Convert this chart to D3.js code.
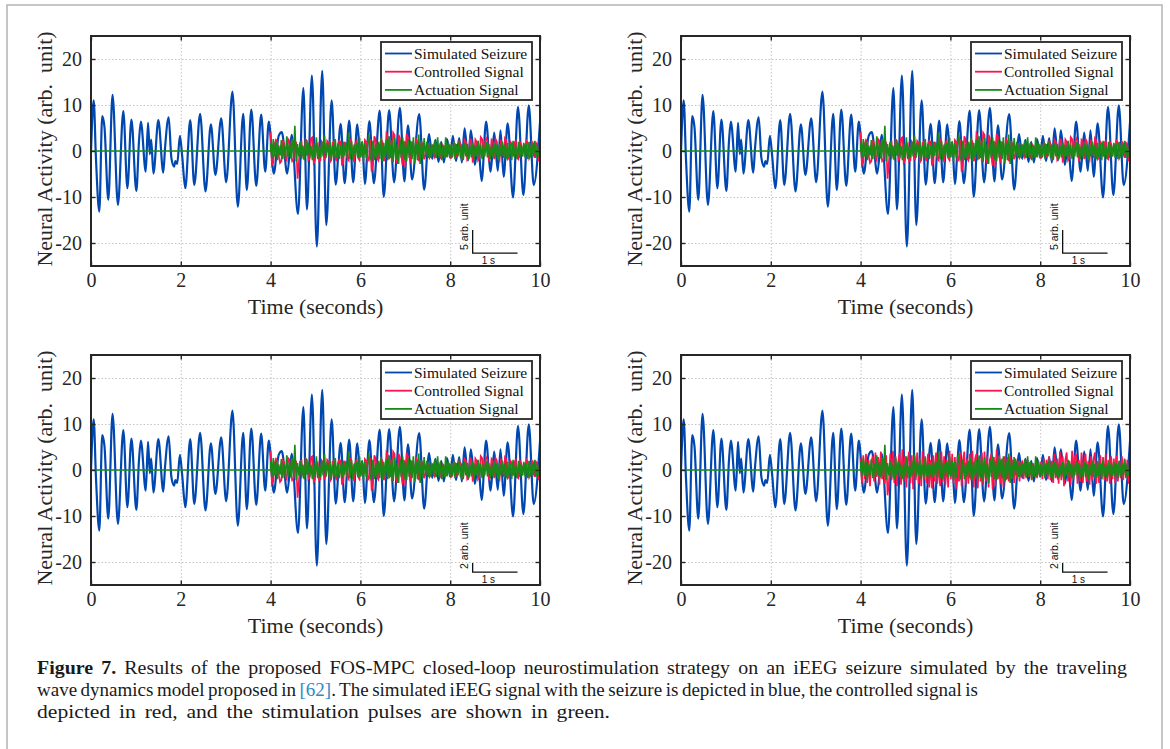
<!DOCTYPE html>
<html>
<head>
<meta charset="utf-8">
<script src="https://cdn.jsdelivr.net/npm/d3@7"></script>
<style>
  body { margin: 0; background: #fff; }
  svg { display: block; }
</style>
</head>
<body>
<div id="figure"></div>
<script>
// ---- data ----
var timeTicks = [0, 2, 4, 6, 8, 10];
var valueTicks = [-20, -10, 0, 10, 20];
var seriesNames = ["Simulated Seizure", "Controlled Signal", "Actuation Signal"];
var scaleBarUnits = [5, 5, 2, 2]; // one per panel (TL, TR, BL, BR)

// simulated seizure: [time (s), value] at the turning points of the blue trace
var seizure = [
  [0, 0], [0.06, 11], [0.11, -1.5], [0.185, -13.2], [0.25, 7.6], [0.3, 5.2], [0.385, -10.6],
  [0.48, 12.2], [0.6, -11.7], [0.72, 8.7], [0.81, -8.1], [0.9, 6.8], [1.01, -8.7], [1.07, 2.3],
  [1.11, 6.4], [1.22, -4.5], [1.27, 6.1], [1.31, -0.7], [1.34, 2.5], [1.39, -4.9], [1.5, 6.7],
  [1.61, -4.7], [1.65, 0.8], [1.73, 7.3], [1.79, -1.5], [1.85, -3.4], [1.88, -2.2], [1.92, -2.8],
  [1.98, 3.3], [2.03, -1], [2.1, -8.1], [2.21, 6.7], [2.3, -7.4], [2.43, 8.1], [2.55, -8.8],
  [2.67, 5.8], [2.77, -5.2], [2.9, 7.1], [3.01, -6.8], [3.15, 12.9], [3.27, -12.1], [3.39, 8.1],
  [3.47, -8.5], [3.57, 9.0], [3.68, -7.6], [3.79, 7.9], [3.88, -4.5], [3.96, 6.4], [4.07, -4.9],
  [4.18, 3.3], [4.25, 4.1], [4.37, -4.9], [4.47, 3.5], [4.61, -13.7], [4.73, 13.7], [4.81, -12.7],
  [4.92, 16.4], [5.03, -20.8], [5.15, 17.4], [5.24, -16.1], [5.36, 11], [5.45, -7.3], [5.56, 5.9],
  [5.65, -7.0], [5.75, 6.6], [5.84, -6.8], [5.93, 5.8], [6.0, -1.0], [6.04, 2.0], [6.1, -7.2],
  [6.2, 6.5], [6.3, -7], [6.43, 8.8], [6.52, -10], [6.64, 8.9], [6.75, -6.8], [6.88, 9.4],
  [6.98, -6.6], [7.06, 5.6], [7.15, -6.2], [7.31, 8.0], [7.42, -8.4], [7.53, 3.7], [7.6, -1.7],
  [7.67, 2.4], [7.74, -2.4], [7.8, 2.0], [7.86, -2.5], [7.93, 2.6], [8.0, -1.5], [8.06, 3.3],
  [8.13, -2.2], [8.2, 2.8], [8.26, -2.5], [8.32, 4.9], [8.4, -2], [8.46, 4.5], [8.55, -3],
  [8.62, 2], [8.7, -6.5], [8.8, 6.4], [8.9, -4.5], [8.98, 4.0], [9.06, -4.3], [9.12, 4.5],
  [9.19, -5.6], [9.28, 6.0], [9.4, -10.1], [9.51, 9.6], [9.63, -9.6], [9.75, 9.9], [9.86, -7.4],
  [10.0, 6.2]
];

// control switched on at 4 s, samples every 0.03 s
var controlStart = 4;
var controlStep = 0.03;

// controlled signal, panels 1-3
var controlledA = [
  4.2, -3.0, -2.5, 1.5, 2.4, 2.0, -1.0, -2.6, -2.2, 2.2,
  1.8, -1.5, -2.0, 2.6, 2.2, -0.8, -2.2, -1.8, 1.0, 2.0,
  -6.0, -2.5, 1.8, 2.0, -1.0, -1.8, 2.5, 2.2, -2.0, -1.6,
  2.8, 3.0, -2.6, -2.0, 1.0, 1.5, -2.2, -2.0, 2.0, 1.5,
  -2.0, -1.2, 2.2, 1.8, -2.5, -2.0, 1.8, 2.0, -1.5, -2.2,
  1.5, 2.2, 2.0, -3.2, -2.5, 2.0, 1.2, -1.5, -2.0, 2.5,
  2.0, -1.2, -2.4, 1.8, 2.2, -1.5, -2.0, 1.2, 1.5, -1.0,
  2.4, 2.0, -2.2, -1.8, 2.6, -4.5, -3.0, 3.2, 2.5, -1.5,
  -2.0, 1.2, 2.5, 2.0, -2.2, -1.5, 3.8, 3.2, -1.8, 2.2,
  -2.4, 4.0, 3.5, -1.5, -2.8, 3.5, 2.8, -1.0, -3.2, 2.2,
  -3.5, 3.8, 3.0, -1.2, -2.5, 2.0, 1.2, -1.8, 2.6, 2.0,
  -2.2, -1.5, 2.0, 1.2, -1.8, -1.0, 1.5, 1.2, -1.5, -1.0,
  1.2, 0.8, -1.4, -1.0, 1.5, 1.0, -1.5, -1.2, 1.2, 0.8,
  -1.2, -1.0, 1.4, 1.2, -1.5, -1.2, 1.8, 1.5, -1.2, -1.0,
  2.0, 1.6, -1.8, -1.5, 2.4, 2.0, -2.0, -1.6, 2.6, 2.2,
  -2.2, -1.8, 2.5, 2.0, -2.0, -1.5, 3.0, 2.6, -1.2, 1.5,
  2.8, 2.2, -2.2, -1.5, 2.4, 2.0, -1.8, 2.6, 2.0, -1.5,
  -2.0, 2.2, 1.8, -1.2, 2.8, 2.4, -1.8, -1.5, 2.0, 1.6,
  -1.2, 1.8, 2.2, -1.5, -1.8, 2.0, 1.5, -1.2, 1.5, -1.0,
  2.2, 1.8, -1.6, -1.0, 2.0, 1.6, -1.5, 1.8, 1.5, -2.2
];

// controlled signal, bottom-right panel (larger)
var controlledB = [
  2.5, -3.0, 3.2, -2.0, 3.5, -2.8, 2.2, -3.5, 1.8, 3.0,
  -2.5, 3.8, -1.5, 2.8, -3.2, 4.0, -2.0, 2.5, -3.0, 3.2,
  -5.5, -3.0, 3.5, -2.2, 4.2, -2.8, 3.0, -3.5, 2.0, 3.8,
  -3.2, 4.5, -2.5, 3.0, -3.8, 2.2, 4.0, -2.8, 3.2, -4.2,
  3.0, -2.2, 3.8, -3.0, 2.5, -3.5, 4.2, -2.0, 3.0, -2.8,
  3.5, -3.8, 2.2, -4.0, 3.2, -2.5, 3.8, -3.0, 2.0, -3.5,
  4.0, -2.5, 3.0, -3.2, 2.2, -3.8, 4.2, -2.0, 3.5, -3.0,
  2.8, -4.0, 3.0, -2.5, 3.8, -3.5, 2.2, 4.0, -3.2, 2.5,
  -3.0, 3.5, -2.2, 4.2, -3.8, 2.5, 3.5, -4.0, 2.8, -2.5,
  3.8, -3.2, 4.0, -2.5, 3.0, -3.8, 2.2, 3.5, -4.2, 2.8,
  -3.5, 4.5, -2.0, 3.2, -3.0, 2.5, -3.8, 3.0, -2.2, 2.8,
  -2.5, 3.0, -2.0, 2.2, -2.8, 2.5, -1.8, 2.0, -2.5, 1.5,
  1.8, -2.0, 1.5, -1.8, 2.2, -1.5, 1.8, -2.2, 1.5, -1.2,
  1.5, -1.8, 2.0, -1.2, 1.8, -2.0, 2.5, -1.5, 2.2, -2.0,
  3.0, -2.2, 2.0, -2.8, 3.5, -1.8, 2.5, -3.0, 4.0, -2.2,
  3.0, -3.5, 2.2, 3.8, -2.5, 2.0, -3.2, 4.2, -2.0, 2.8,
  3.5, -3.0, 2.2, -2.5, 3.8, -2.8, 2.0, 3.5, -2.5, 2.0,
  -3.2, 3.0, -2.2, 2.5, 3.8, -3.0, 2.0, -2.8, 3.2, -2.0,
  2.8, -2.2, 3.5, -2.5, 2.2, -3.0, 3.0, -2.0, 2.5, -2.8,
  3.2, -2.5, 2.0, -1.8, 3.0, -2.2, 2.5, -1.8, 2.2, -3.0
];

// stimulation pulses (same sampling)
var actuation = [
  1.8, -1.4, 2.6, -1.2, 2.0, -2.0, 1.2, -1.0, 2.4, -1.8,
  1.4, -1.5, 3.2, -1.2, 1.8, -1.6, 2.6, -1.4, 5.5, -2.2,
  1.5, -1.2, 2.0, -1.8, 1.2, -2.0, 2.6, -1.0, 1.8, -1.5,
  1.2, -2.0, 1.6, -1.4, 3.0, -1.8, 1.0, -1.5, 2.0, -1.2,
  3.4, -1.5, 1.8, -1.0, 2.2, -2.0, 1.2, -1.5, 2.6, -1.4,
  1.5, -1.8, 1.2, -1.5, 2.0, -1.0, 1.8, -1.5, 4.0, -1.8,
  2.2, -2.0, 1.4, -1.2, 1.8, -1.5, 3.0, -1.4, 2.0, -2.2,
  1.8, -1.5, 1.5, 3.6, -1.8, -1.2, 2.2, -2.0, 1.5, -1.4,
  2.0, -1.8, 2.8, -2.2, 1.8, -1.4, 2.4, -2.0, 3.2, -1.5,
  2.2, -2.4, 2.8, -1.8, 1.5, -2.8, 2.4, -1.5, 3.0, -2.0,
  2.0, -2.2, 2.6, -1.5, 2.2, -1.8, 3.0, -2.6, 1.8, -2.0,
  3.6, -2.8, 2.2, -1.8, 2.8, -1.2, 2.0, -1.5, 1.8, -1.4,
  1.4, -1.2, 2.2, -1.5, 3.0, -1.4, 1.8, -2.0, 1.2, -1.5,
  3.0, -1.4, 1.8, -1.5, 1.4, -1.2, 2.0, -1.8, 1.5, -1.2,
  2.2, -1.5, 1.4, -2.0, 1.8, -1.2, 1.5, -1.8, 1.2, -1.4,
  1.8, -2.0, 1.4, -1.2, 2.2, -1.5, 1.4, -1.8, 1.5, -1.2,
  2.0, -1.4, 1.5, -1.8, 1.2, -1.4, 1.8, -1.5, 1.4, -2.0,
  1.5, -1.2, 2.0, -1.5, 1.4, -1.8, 1.8, -1.4, 1.5, -2.0,
  2.2, -1.4, 1.2, -1.8, 2.0, -1.5, 1.4, -1.2, 1.8, -1.5,
  1.5, -1.8, 2.0, -1.4, 1.5, -1.2, 2.2, -1.5, 1.4, -1.2
];

var panelControlled = [controlledA, controlledA, controlledA, controlledB];

var captionLines = [
  "Results of the proposed FOS-MPC closed-loop neurostimulation strategy on an iEEG seizure simulated by the traveling",
  "wave dynamics model proposed in ",
  ". The simulated iEEG signal with the seizure is depicted in blue, the controlled signal is",
  "depicted in red, and the stimulation pulses are shown in green."
];

function init() {
    var W = 1170, H = 749;
    var colors = ["#0048b0", "#fa1450", "#178a17"];

    var svg = d3.select("#figure").append("svg")
        .attr("width", W).attr("height", H);

    svg.append("rect").attr("width", W).attr("height", H).attr("fill", "#fff");
    //light frame around the figure
    svg.append("rect")
        .attr("x", 7).attr("y", 5).attr("width", 1155).attr("height", 780)
        .attr("fill", "none").attr("stroke", "#b4b4b4").attr("stroke-width", 1.5);

    //axes boxes (top-left corners)
    var panels = [
        {x: 91, y: 36}, {x: 681, y: 36},
        {x: 91, y: 355}, {x: 681, y: 355}
    ];
    var pw = 449, ph = 230;
    var serif = "Liberation Serif, Times New Roman, serif";

    panels.forEach(function(p, pi) {
        var g = svg.append("g").attr("transform", "translate(" + p.x + "," + p.y + ")");
        var x = d3.scaleLinear().domain([0, 10]).range([0, pw]);
        var y = d3.scaleLinear().domain([-25, 25]).range([ph, 0]);

        //dotted grid
        g.append("g").attr("class", "grid")
            .attr("transform", "translate(0," + ph + ")")
            .call(d3.axisBottom(x).tickValues(timeTicks).tickSize(-ph).tickFormat(""));
        g.append("g").attr("class", "grid")
            .call(d3.axisLeft(y).tickValues(valueTicks).tickSize(-pw).tickFormat(""));
        g.selectAll(".grid .domain").remove();
        g.selectAll(".grid line")
            .attr("stroke", "#c4c4c4").attr("stroke-width", 1)
            .attr("stroke-dasharray", "1.5,2");

        var clipId = "clip" + pi;
        g.append("clipPath").attr("id", clipId)
            .append("rect").attr("width", pw).attr("height", ph);
        var plot = g.append("g").attr("clip-path", "url(#" + clipId + ")");

        //blue seizure trace
        var smooth = d3.line()
            .x(function(d) { return x(d[0]); })
            .y(function(d) { return y(d[1]); })
            .curve(d3.curveMonotoneX);
        plot.append("path").datum(seizure)
            .attr("d", smooth)
            .attr("fill", "none").attr("stroke", colors[0])
            .attr("stroke-width", 2.2).attr("stroke-linejoin", "round");

        //red controlled signal
        var sampled = d3.line()
            .x(function(d, i) { return x(controlStart + i * controlStep); })
            .y(function(d) { return y(d); });
        plot.append("path").datum(panelControlled[pi])
            .attr("d", sampled)
            .attr("fill", "none").attr("stroke", colors[1])
            .attr("stroke-width", 1.7);

        //green actuation: zero before control, then pulses
        var act = [[0, 0], [controlStart, 0]].concat(actuation.map(function(v, i) {
            return [controlStart + i * controlStep, v];
        }));
        plot.append("path").datum(act)
            .attr("d", d3.line()
                .x(function(d) { return x(d[0]); })
                .y(function(d) { return y(d[1]); }))
            .attr("fill", "none").attr("stroke", colors[2])
            .attr("stroke-width", 1.6);

        //axes with inward ticks on all sides
        var tick = 4.5;
        var bottom = g.append("g").attr("class", "ax").attr("transform", "translate(0," + ph + ")")
            .call(d3.axisBottom(x).tickValues(timeTicks).tickSize(-tick).tickPadding(7)
                .tickFormat(function(d) { return String(d); }));
        var left = g.append("g").attr("class", "ax")
            .call(d3.axisLeft(y).tickValues(valueTicks).tickSize(-tick).tickPadding(9)
                .tickFormat(function(d) { return String(d); }));
        g.append("g").attr("class", "ax")
            .call(d3.axisTop(x).tickValues(timeTicks).tickSize(-tick).tickFormat(""));
        g.append("g").attr("class", "ax").attr("transform", "translate(" + pw + ",0)")
            .call(d3.axisRight(y).tickValues(valueTicks).tickSize(-tick).tickFormat(""));
        g.selectAll(".ax .domain").remove();
        g.selectAll(".ax line").attr("stroke", "#262626").attr("stroke-width", 1.4);
        [bottom, left].forEach(function(a) {
            a.selectAll("text")
                .attr("font-family", serif).attr("font-size", 20).attr("fill", "#262626");
        });

        g.append("rect").attr("width", pw).attr("height", ph)
            .attr("fill", "none").attr("stroke", "#262626").attr("stroke-width", 2);

        //axis titles
        g.append("text")
            .attr("x", pw / 2).attr("y", ph + 48)
            .attr("text-anchor", "middle")
            .attr("font-family", serif).attr("font-size", 22).attr("fill", "#262626")
            .text("Time (seconds)");
        g.append("text")
            .attr("transform", "translate(-39," + (ph / 2 - 2) + ") rotate(-90)")
            .attr("text-anchor", "middle")
            .attr("font-family", serif).attr("font-size", 22).attr("fill", "#262626")
            .attr("xml:space", "preserve")
            .text("Neural Activity (arb.  unit)");

        //legend
        var lx = pw - 159, ly = 6, lw = 151, lh = 58;
        var leg = g.append("g").attr("transform", "translate(" + lx + "," + ly + ")");
        leg.append("rect").attr("width", lw).attr("height", lh)
            .attr("fill", "#fff").attr("stroke", "#262626").attr("stroke-width", 1.8);
        seriesNames.forEach(function(name, i) {
            var cy = 11.5 + i * 18.2;
            leg.append("line")
                .attr("x1", 4).attr("x2", 31).attr("y1", cy).attr("y2", cy)
                .attr("stroke", colors[i]).attr("stroke-width", 1.8);
            leg.append("text")
                .attr("x", 33).attr("y", cy + 5)
                .attr("font-family", serif).attr("font-size", 15.5).attr("fill", "#111")
                .text(name);
        });

        //scale bar
        var bx = 8.5, by = -22.2;
        var sans = "Liberation Sans, Arial, sans-serif";
        g.append("path")
            .attr("d", "M" + x(bx) + "," + y(by + scaleBarUnits[pi]) +
                       "V" + y(by) + "H" + x(bx + 1))
            .attr("fill", "none").attr("stroke", "#111").attr("stroke-width", 1.3);
        g.append("text")
            .attr("x", x(bx + 0.35)).attr("y", y(by) + 11)
            .attr("text-anchor", "middle")
            .attr("font-family", sans).attr("font-size", 10)
            .attr("fill", "#111").text("1 s");
        g.append("text")
            .attr("transform", "translate(" + (x(bx) - 5) + "," + (y(by) - 3) + ") rotate(-90)")
            .attr("font-family", sans).attr("font-size", 10.5)
            .attr("fill", "#111").text(scaleBarUnits[pi] + " arb. unit");
    });

    //caption: one font size; word spacing takes up the width difference of each line
    var cap = svg.append("g").attr("font-family", serif).attr("font-size", 19).attr("fill", "#1a1a1a");
    var l1 = cap.append("text").attr("x", 37).attr("y", 674);
    l1.append("tspan").attr("font-weight", "bold").text("Figure 7.");
    l1.append("tspan").text(" " + captionLines[0]);

    var l2 = cap.append("text").attr("x", 37).attr("y", 696);
    l2.append("tspan").text(captionLines[1]);
    l2.append("tspan").attr("fill", "#2b8cc4").text("[62]");
    l2.append("tspan").text(captionLines[2]);

    var l3 = cap.append("text").attr("x", 37).attr("y", 718).text(captionLines[3]);

    [[l1, 1090], [l2, 941], [l3, 573]].forEach(function(pair) {
        var t = pair[0], target = pair[1];
        var natural = t.node().getComputedTextLength();
        var spaces = t.text().split(" ").length - 1;
        var ws = Math.max(-1.5, Math.min(3, (target - natural) / spaces));
        t.attr("word-spacing", ws);
        t.attr("textLength", target).attr("lengthAdjust", "spacingAndGlyphs");
    });
}

window.onload = init;
</script>
</body>
</html>
